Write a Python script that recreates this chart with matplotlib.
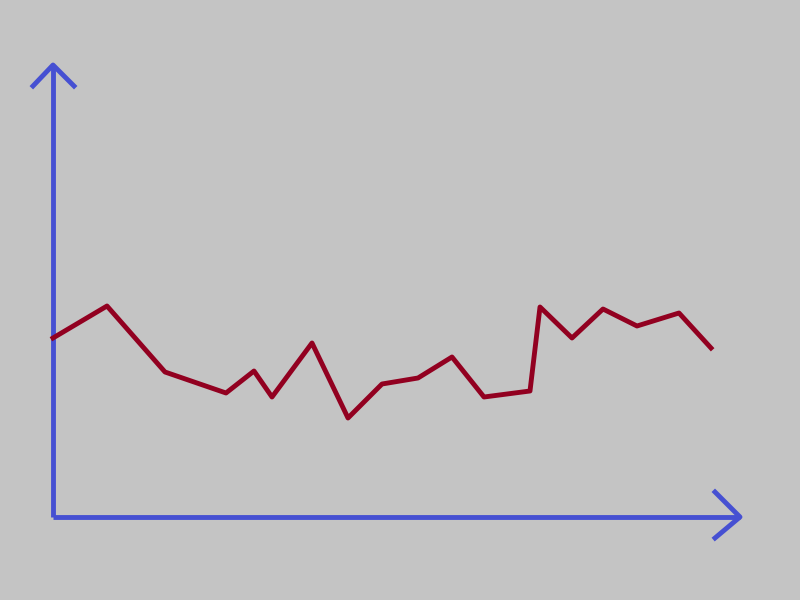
import matplotlib.pyplot as plt

# values (x from origin, y above x axis)
x_vals = [0, 54, 112, 173, 201, 219, 259, 295, 329, 365, 399, 431, 477, 487, 519, 550, 584, 626, 658]
y_vals = [179, 211, 145, 124, 146, 120, 174, 99, 133, 139, 160, 120, 126, 210, 179, 208, 191, 204, 169]

bg = '#c4c4c4'
axis_col = '#4650d2'
line_col = '#920020'

fig = plt.figure(figsize=(8, 6), dpi=100, facecolor=bg)
ax = fig.add_axes([0, 0, 1, 1])
ax.set_facecolor(bg)
# origin at pixel (53, 517)
ax.set_xlim(-53, 747)
ax.set_ylim(-83, 517)
ax.axis('off')

# axes with arrowheads
ax.plot([0, 0], [0, 452], color=axis_col, lw=3.5, solid_capstyle='butt')
ax.plot([-20, 0, 21], [431, 452, 431], color=axis_col, lw=3.5)
ax.plot([0, 687], [0, 0], color=axis_col, lw=3.5, solid_capstyle='butt')
ax.plot([662, 687, 662], [25, 0, -21], color=axis_col, lw=3.5)

ax.plot(x_vals, y_vals, color=line_col, lw=3.5)

fig.savefig('out.png', dpi=100, facecolor=bg)
